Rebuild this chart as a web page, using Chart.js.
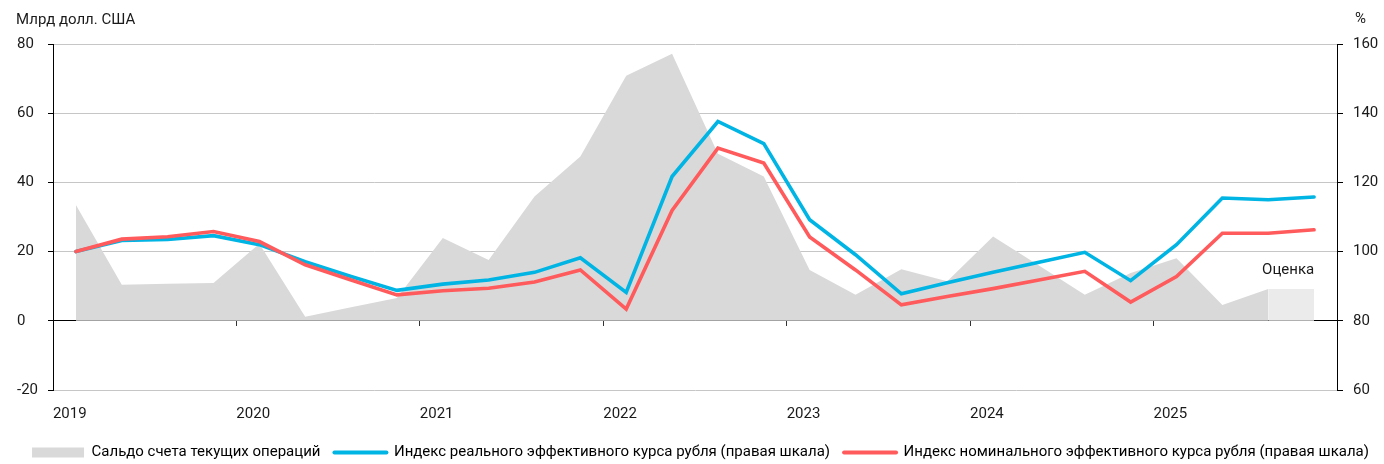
<!DOCTYPE html>
<html lang="ru">
<head>
<meta charset="utf-8">
<script src="https://cdn.jsdelivr.net/npm/chart.js@4.4.1/dist/chart.umd.min.js"></script>
<style>
  html, body { margin: 0; padding: 0; background: #fff; overflow: hidden; }
  #wrap { position: relative; width: 1384px; height: 464px; }
</style>
</head>
<body>
<div id="wrap"><canvas id="chart"></canvas></div>
<script>
// Quarterly data, 2019 Q1 – 2025 Q4
const years = ['2019', '2020', '2021', '2022', '2023', '2024', '2025'];
const quarters = years.flatMap(y => ['I', 'II', 'III', 'IV'].map(q => q + ' кв. ' + y));

// Current account balance, bn USD (left axis); last quarter is an estimate
const currentAccount = [33.5, 10.4, 10.7, 10.9, 22.3, 1.2, 3.9, 6.6,
                        23.9, 17.6, 35.9, 47.5, 70.8, 77.2, 48.3, 41.7,
                        14.7, 7.5, 14.9, 11.4, 24.4, 16.0, 7.5, 13.8,
                        18.1, 4.6, 9.2, null];
const currentAccountEstimate = [null, null, null, null, null, null, null, null,
                                null, null, null, null, null, null, null, null,
                                null, null, null, null, null, null, null, null,
                                null, null, 9.2, 9.2];

// Real and nominal effective rouble exchange rate indices, % (right axis)
const reerIndex = [100.0, 103.2, 103.5, 104.6, 102.0, 97.1, 92.8, 88.8,
                   90.6, 91.8, 94.0, 98.2, 88.2, 121.7, 137.6, 131.2,
                   109.2, 99.1, 87.8, 91.0, 94.0, 96.9, 99.8, 91.6,
                   102.0, 115.5, 115.0, 115.8];
const neerIndex = [100.0, 103.6, 104.3, 105.8, 102.9, 96.2, 91.8, 87.5,
                   88.7, 89.4, 91.2, 94.7, 83.4, 111.9, 129.9, 125.6,
                   104.2, 94.7, 84.6, 87.0, 89.3, 91.8, 94.3, 85.4,
                   92.8, 105.3, 105.3, 106.3];

const seriesNames = [
  'Сальдо счета текущих операций',
  'Индекс реального эффективного курса рубля (правая шкала)',
  'Индекс номинального эффективного курса рубля (правая шкала)'
];
const leftUnit = 'Млрд долл. США';
const rightUnit = '%';
const estimateLabel = 'Оценка';

const leftRange = { min: -20, max: 80, step: 20 };
const rightRange = { min: 60, max: 160, step: 20 };

const colors = {
  balance: '#d9d9d9',
  estimate: '#ebebeb',
  reer: '#00b4e4',
  neer: '#ff5a5c',
  text: '#1a1a1a',
  grid: '#c6c6c6'
};

Chart.defaults.font.family = "Roboto, 'Liberation Sans', sans-serif";
Chart.defaults.font.size = 15;
Chart.defaults.color = colors.text;

// Axis unit captions and the estimate note
const captions = {
  id: 'captions',
  afterDraw(chart) {
    const { ctx, scales } = chart;
    ctx.save();
    ctx.fillStyle = colors.text;
    ctx.font = "15px Roboto, 'Liberation Sans', sans-serif";
    ctx.textBaseline = 'middle';
    ctx.textAlign = 'left';
    ctx.fillText(leftUnit, 16, 20);
    ctx.fillText(rightUnit, 1355, 19);
    ctx.textAlign = 'center';
    const n = quarters.length;
    const x = (scales.x.getPixelForValue(n - 2) + scales.x.getPixelForValue(n - 1)) / 2 - 3;
    const y = scales.y.getPixelForValue(currentAccountEstimate[n - 1]) - 19;
    ctx.fillText(estimateLabel, x, y);
    ctx.restore();
  }
};

new Chart(document.getElementById('chart'), {
  type: 'line',
  data: {
    labels: quarters,
    datasets: [
      {
        label: seriesNames[0], data: currentAccount, yAxisID: 'y',
        fill: 'origin', backgroundColor: colors.balance,
        borderColor: 'rgba(0,0,0,0)', borderWidth: 0, pointRadius: 0, tension: 0, order: 3
      },
      {
        label: seriesNames[1], data: reerIndex, yAxisID: 'y1',
        fill: false, borderColor: colors.reer, borderWidth: 3.6, borderCapStyle: 'round',
        pointRadius: 0, tension: 0, order: 1
      },
      {
        label: seriesNames[2], data: neerIndex, yAxisID: 'y1',
        fill: false, borderColor: colors.neer, borderWidth: 3.6, borderCapStyle: 'round',
        pointRadius: 0, tension: 0, order: 0
      },
      {
        label: estimateLabel, data: currentAccountEstimate, yAxisID: 'y',
        fill: 'origin', backgroundColor: colors.estimate,
        borderColor: 'rgba(0,0,0,0)', borderWidth: 0, pointRadius: 0, tension: 0, order: 4
      }
    ]
  },
  options: {
    responsive: true,
    maintainAspectRatio: false,
    animation: false,
    events: [],
    layout: { padding: { left: 17, right: 0, top: 44, bottom: -6 } },
    plugins: {
      tooltip: { enabled: false },
      legend: {
        position: 'bottom',
        align: 'center',
        labels: {
          usePointStyle: true,
          pointStyleWidth: 52,
          boxHeight: 10,
          padding: 14,
          color: colors.text,
          font: { size: 15 },
          generateLabels(chart) {
            const ds = chart.data.datasets;
            return [
              { text: ds[0].label, datasetIndex: 0, pointStyle: 'rect', fillStyle: colors.balance,
                strokeStyle: colors.balance, lineWidth: 0, hidden: false },
              { text: ds[1].label, datasetIndex: 1, pointStyle: 'line', fillStyle: colors.reer,
                strokeStyle: colors.reer, lineWidth: 4, lineCap: 'round', hidden: false },
              { text: ds[2].label, datasetIndex: 2, pointStyle: 'line', fillStyle: colors.neer,
                strokeStyle: colors.neer, lineWidth: 4, lineCap: 'round', hidden: false }
            ];
          }
        }
      }
    },
    scales: {
      x: {
        type: 'category',
        offset: true,
        border: { display: false },
        grid: { display: false, drawTicks: false },
        ticks: {
          autoSkip: false, maxRotation: 0, minRotation: 0,
          align: 'start', labelOffset: -23, padding: 15,
          callback: (v, i) => (i % 4 === 0 ? years[i / 4] : '')
        },
        afterFit(s) { s.height = 41; }
      },
      x0: {
        type: 'category',
        position: { y: 0 },
        offset: true,
        border: { display: true, color: '#000', width: 1 },
        grid: {
          offset: true, drawOnChartArea: false, drawTicks: true, tickLength: 5, tickWidth: 1,
          tickColor: ctx => (ctx.index % 4 === 0 ? '#333' : 'rgba(0,0,0,0)')
        },
        ticks: { display: false, autoSkip: false }
      },
      y: {
        position: 'left',
        min: leftRange.min, max: leftRange.max,
        ticks: { stepSize: leftRange.step, crossAlign: 'far', padding: 4 },
        grid: {
          color: ctx => (ctx.tick && ctx.tick.value === 0 ? '#000' : colors.grid),
          tickColor: '#000', tickLength: 5, lineWidth: 1
        },
        border: { display: true, color: '#000', width: 1 },
        afterFit(s) { s.width = 36; }
      },
      y1: {
        position: 'right',
        min: rightRange.min, max: rightRange.max,
        ticks: { stepSize: rightRange.step, padding: 10 },
        grid: { drawOnChartArea: false, tickColor: '#000', tickLength: 6 },
        border: { display: true, color: '#000', width: 1 },
        afterFit(s) { s.width = 47; }
      }
    }
  },
  plugins: [captions]
});
</script>
</body>
</html>
